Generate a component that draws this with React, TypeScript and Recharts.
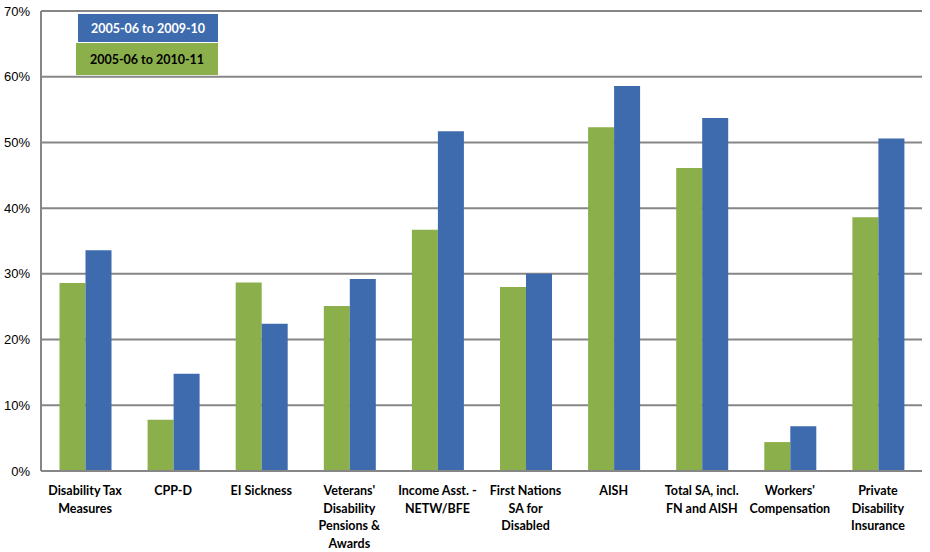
import React from "react";
import { BarChart, Bar, XAxis, YAxis, CartesianGrid } from "recharts";

const categories = [
  "Disability Tax\nMeasures",
  "CPP-D",
  "EI Sickness",
  "Veterans'\nDisability\nPensions &\nAwards",
  "Income Asst. -\nNETW/BFE",
  "First Nations\nSA for\nDisabled",
  "AISH",
  "Total SA, incl.\nFN and AISH",
  "Workers'\nCompensation",
  "Private\nDisability\nInsurance",
];
const growth0511 = [28.6, 7.8, 28.7, 25.1, 36.7, 28.0, 52.3, 46.1, 4.4, 38.6];
const growth0510 = [33.6, 14.8, 22.4, 29.2, 51.7, 30.0, 58.6, 53.7, 6.8, 50.6];
const yTicks = [0, 10, 20, 30, 40, 50, 60, 70];

const GREEN = "#8BAF4A";
const BLUE = "#3E6BAE";
const GRID = "#868686";
const font = "Lato, 'Open Sans', sans-serif";

const data = categories.map((name, i) => ({
  name,
  g: growth0511[i],
  b: growth0510[i],
}));

function CatTick(props: any) {
  const { x, y, payload } = props;
  const lines = String(payload.value).split("\n");
  return (
    <text
      x={x}
      y={y + 16}
      textAnchor="middle"
      fontFamily={font}
      fontWeight={700}
      fontSize={12.5}
      fill="#000"
    >
      {lines.map((l, i) => (
        <tspan key={i} x={x} dy={i === 0 ? 0 : 17.5}>
          {l}
        </tspan>
      ))}
    </text>
  );
}

function LegendBox() {
  const box = {
    fontFamily: font,
    fontWeight: 700,
    fontSize: 12.5,
    display: "flex",
    alignItems: "center",
    justifyContent: "center",
  } as React.CSSProperties;
  return (
    <div style={{ position: "absolute", left: 76, top: 14, width: 143, height: 62 }}>
      <div
        style={{ ...box, position: "absolute", left: 2, top: 0, width: 140, height: 28, background: BLUE, color: "#fff" }}
      >
        2005-06 to 2009-10
      </div>
      <div
        style={{ ...box, position: "absolute", left: 0, top: 29, width: 142, height: 32, background: GREEN, color: "#000" }}
      >
        2005-06 to 2010-11
      </div>
    </div>
  );
}

export default function App() {
  return (
    <div style={{ position: "absolute", left: 0, top: 0, width: 930, height: 552, background: "#fff" }}>
      <BarChart
        width={930}
        height={552}
        data={data}
        margin={{ top: 11, right: 8, left: 0, bottom: 0 }}
        barGap={0}
        barCategoryGap="21%"
      >
        <CartesianGrid vertical={false} stroke={GRID} strokeWidth={2} />
        <XAxis
          dataKey="name"
          height={81}
          interval={0}
          tick={<CatTick />}
          tickLine={false}
          axisLine={{ stroke: GRID, strokeWidth: 2 }}
        />
        <YAxis
          width={41}
          domain={[0, 70]}
          ticks={yTicks}
          tickFormatter={(v: number) => `${v}%`}
          tickLine={false}
          tickSize={0}
          tickMargin={11}
          axisLine={{ stroke: GRID, strokeWidth: 2 }}
          tick={{ fill: "#000", fontSize: 13, fontFamily: "'Liberation Sans', Arial, sans-serif" }}
        />
        <Bar dataKey="g" name="2005-06 to 2010-11" fill={GREEN} isAnimationActive={false} />
        <Bar dataKey="b" name="2005-06 to 2009-10" fill={BLUE} isAnimationActive={false} />
      </BarChart>
      <LegendBox />
    </div>
  );
}
